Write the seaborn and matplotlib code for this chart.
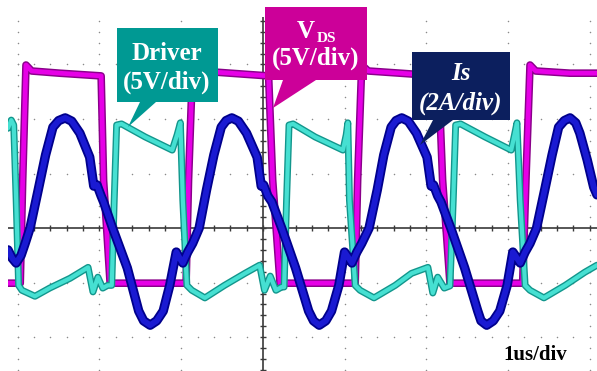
import numpy as np
import pandas as pd
import matplotlib
matplotlib.use("Agg")
import matplotlib.pyplot as plt
from matplotlib.patches import Polygon
import seaborn as sns

# time axis in divisions (1us/div), amplitude in divisions
vds_t = [-3.12, -2.97, -2.94, -2.90, -2.83, -2.49, -1.98, -1.95, -1.87,
         -0.94, -0.91, -0.86, -0.77, -0.40, 0.07, 0.12, 0.21,
         1.13, 1.16, 1.21, 1.29, 1.68, 2.15, 2.20, 2.29,
         3.18, 3.22, 3.27, 3.34, 3.76, 4.09]
vds_v = [-1.01, -1.01, 0.88, 2.99, 2.88, 2.84, 2.79, 0.88, -1.01,
         -1.01, 0.88, 2.99, 2.88, 2.84, 2.79, 0.88, -1.01,
         -1.01, 0.88, 2.99, 2.88, 2.84, 2.79, 0.88, -1.01,
         -1.01, 0.88, 2.99, 2.88, 2.84, 2.84]

drv_t = [-3.12, -3.08, -3.05, -3.02, -2.99, -2.95, -2.79, -2.61, -2.36, -2.14,
         -2.08, -2.02, -1.96, -1.90, -1.85, -1.82, -1.79, -1.73, -1.44,
         -1.11, -1.05, -1.01, -0.98, -0.93, -0.87, -0.71, -0.47, -0.22, -0.04,
         0.02, 0.09, 0.16, 0.23, 0.26, 0.29, 0.32, 0.37, 0.64,
         0.98, 1.02, 1.04, 1.06, 1.13, 1.19, 1.36, 1.62, 1.82, 2.02,
         2.08, 2.14, 2.22, 2.29, 2.33, 2.36, 2.42, 2.72,
         3.04, 3.08, 3.11, 3.15, 3.21, 3.27, 3.44, 3.70, 3.94, 4.09]
drv_v = [1.83, 1.98, 1.89, 0.51, -1.05, -1.14, -1.25, -1.10, -0.92, -0.72,
         -1.17, -0.90, -1.10, -1.05, -1.05, 0.51, 1.89, 1.91, 1.67,
         1.43, 1.71, 1.93, 0.51, -1.05, -1.14, -1.28, -1.05, -0.83, -0.68,
         -1.14, -0.88, -1.14, -1.08, -1.08, 0.51, 1.89, 1.91, 1.67,
         1.43, 1.71, 1.93, 0.51, -1.05, -1.14, -1.28, -1.05, -0.83, -0.72,
         -1.19, -0.90, -1.10, -1.06, 0.51, 1.89, 1.91, 1.67,
         1.43, 1.71, 1.93, 0.51, -1.05, -1.14, -1.28, -1.05, -0.81, -0.68]

is_t = [-3.12, -3.07, -3.02, -2.96, -2.91, -2.85, -2.75, -2.66, -2.57, -2.50, -2.42, -2.34,
        -2.24, -2.12, -2.07, -2.03, -1.98, -1.95, -1.84, -1.66,
        -1.52, -1.46, -1.38, -1.30, -1.22, -1.14, -1.06, -1.02, -0.98, -0.92, -0.86,
        -0.78, -0.69, -0.60, -0.51, -0.45, -0.38, -0.30,
        -0.20, -0.07, -0.02, 0.01, 0.06, 0.11, 0.23, 0.40,
        0.56, 0.62, 0.69, 0.77, 0.84, 0.93, 1.00, 1.05, 1.09, 1.15, 1.21,
        1.30, 1.40, 1.48, 1.57, 1.63, 1.70, 1.78,
        1.88, 2.01, 2.06, 2.09, 2.14, 2.18, 2.30, 2.47,
        2.63, 2.67, 2.74, 2.82, 2.90, 2.99, 3.06, 3.11, 3.15, 3.21, 3.27,
        3.35, 3.45, 3.54, 3.62, 3.69, 3.76, 3.83, 3.88, 3.97, 4.05, 4.09]
is_v = [-0.40, -0.55, -0.64, -0.50, -0.28, 0.00, 0.70, 1.34, 1.85, 1.97, 2.02, 1.96,
        1.74, 1.30, 0.77, 0.79, 0.59, 0.48, 0.00, -0.73,
        -1.52, -1.70, -1.78, -1.70, -1.52, -1.05, -0.44, -0.55, -0.64, -0.44, -0.28,
        0.00, 0.70, 1.34, 1.85, 1.97, 2.02, 1.96,
        1.74, 1.30, 0.77, 0.79, 0.59, 0.48, 0.00, -0.73,
        -1.52, -1.70, -1.78, -1.70, -1.52, -1.05, -0.44, -0.55, -0.64, -0.44, -0.28,
        0.00, 0.70, 1.34, 1.85, 1.97, 2.02, 1.96,
        1.74, 1.30, 0.77, 0.79, 0.59, 0.48, 0.00, -0.73,
        -1.52, -1.70, -1.78, -1.70, -1.52, -1.05, -0.44, -0.55, -0.64, -0.44, -0.28,
        0.00, 0.70, 1.34, 1.85, 1.97, 2.02, 1.93, 1.74, 1.25, 0.75, 0.61]

W, H = 597, 371

sns.set_style("white")
plt.rcParams["font.family"] = ["Liberation Serif", "DejaVu Serif"]

fig = plt.figure(figsize=(W / 100, H / 100), dpi=100)
ax = fig.add_axes([8 / W, 0, 589 / W, 354 / H])
ax.set_xlim(-3.12, 4.09)
ax.set_ylim(-2.62, 3.87)
ax.set_axis_off()

# dotted graticule
for gx in range(-3, 5):
    if gx == 0:
        continue
    yy = np.arange(-2.6, 3.81, 0.2)
    ax.scatter(np.full_like(yy, gx), yy, s=1.2, color="#8a8a8a", lw=0, zorder=1)
for gy in range(-2, 4):
    if gy == 0:
        continue
    xx = np.arange(-3.0, 4.01, 0.2)
    ax.scatter(xx, np.full_like(xx, gy), s=1.2, color="#8a8a8a", lw=0, zorder=1)

# centre cross with minor ticks
ax.axhline(0, color="#3a3a3a", lw=1.2, zorder=1)
ax.axvline(0, color="#3a3a3a", lw=1.2, zorder=1)
tx = np.arange(-3.0, 4.01, 0.2)
ax.scatter(tx, np.zeros_like(tx), marker="|", s=25, color="#3a3a3a", lw=1, zorder=1)
ty = np.arange(-2.6, 3.81, 0.2)
ax.scatter(np.zeros_like(ty), ty, marker="_", s=25, color="#3a3a3a", lw=1, zorder=1)

traces = [
    (vds_t, vds_v, "#8a008a", "#e600e6", 5.5, 3.4),
    (drv_t, drv_v, "#12968c", "#46e0d2", 5.0, 3.0),
    (is_t, is_v, "#00008c", "#1a1ad2", 6.8, 4.2),
]
for i, (t, v, edge, core, lw_out, lw_in) in enumerate(traces):
    df = pd.DataFrame({"t": t, "v": v})
    sns.lineplot(data=df, x="t", y="v", sort=False, estimator=None, ax=ax,
                 color=edge, lw=lw_out, solid_joinstyle="round", zorder=3 + 2 * i)
    sns.lineplot(data=df, x="t", y="v", sort=False, estimator=None, ax=ax,
                 color=core, lw=lw_in, solid_joinstyle="round", zorder=4 + 2 * i)


def px(x, y):
    return (x / W, 1 - y / H)


def callout(box, base, tip, color):
    x0, y0, x1, y1 = box
    pts = [(x0, y0), (x1, y0), (x1, y1), (base[1], y1), tip, (base[0], y1), (x0, y1)]
    fig.add_artist(Polygon([px(*p) for p in pts], closed=True,
                           facecolor=color, edgecolor="none", zorder=20))


callout((117, 28, 218, 102), (140, 156), (128, 127), "#009993")
callout((265, 7, 367, 80), (283, 316), (273, 108), "#cc0099")
callout((412, 52, 510, 120), (433, 453), (420, 145), "#0c1f5e")

txt = dict(color="white", fontweight="bold", ha="center", va="center", zorder=30)
fig.text(*px(167, 53), "Driver", fontsize=18, **txt)
fig.text(*px(167, 82), "(5V/div)", fontsize=18, **txt)
fig.text(*px(306, 31), "V", fontsize=18, **txt)
fig.text(*px(327, 38), "DS", fontsize=11, **txt)
fig.text(*px(316, 58), "(5V/div)", fontsize=18, **txt)
fig.text(*px(461, 74), "Is", fontsize=18, style="italic", **txt)
fig.text(*px(461, 103), "(2A/div)", fontsize=18, style="italic", **txt)

fig.text(*px(535, 355), "1us/div", fontsize=15, fontweight="bold",
         ha="center", va="center", color="black")

fig.savefig("out.png", dpi=100, facecolor="white")
